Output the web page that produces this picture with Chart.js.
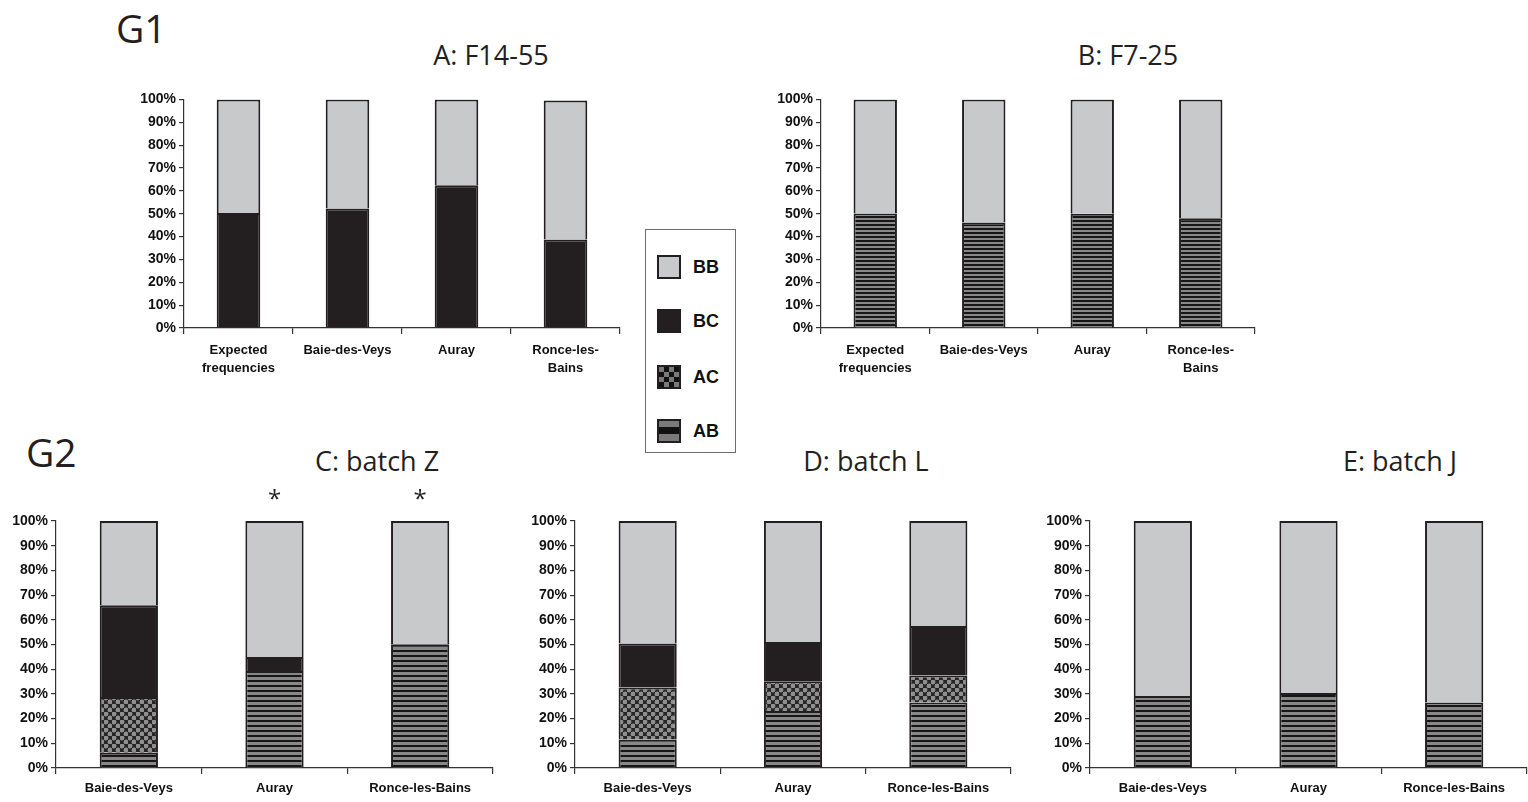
<!DOCTYPE html>
<html>
<head>
<meta charset="utf-8">
<script src="https://cdn.jsdelivr.net/npm/chart.js@4.4.1/dist/chart.umd.min.js"></script>
<style>
body { margin: 0; background: #fff; width: 1528px; height: 802px; position: relative; overflow: hidden; }
.caja { position: absolute; }
.titulo { position: absolute; font-family: "Open Sans", sans-serif; font-size: 27px; line-height: 1; color: #231f20; white-space: nowrap; transform: translateX(-50%); }
.grupo { position: absolute; font-family: "Open Sans", sans-serif; font-size: 39px; line-height: 1; color: #231f20; }
#leyenda { position: absolute; left: 645px; top: 229px; width: 89px; height: 222px; border: 1px solid #6d6d6d; }
.item { position: absolute; left: 11px; height: 24px; display: flex; align-items: center; font-family: "Liberation Sans", Arial, sans-serif; font-weight: bold; font-size: 18px; color: #111; }
.muestra { width: 20px; height: 20px; border: 2px solid #231f20; margin-right: 12px; }
</style>
</head>
<body>
<div class="grupo" style="left:116px; top:8px">G1</div>
<div class="grupo" style="left:26px; top:432px">G2</div>

<div class="titulo" style="left:491px; top:41px">A: F14-55</div>
<div class="titulo" style="left:1128px; top:41px">B: F7-25</div>
<div class="titulo" style="left:377px; top:447px">C: batch Z</div>
<div class="titulo" style="left:866px; top:447px">D: batch L</div>
<div class="titulo" style="left:1400px; top:447px">E: batch J</div>

<div class="caja" style="left:100px; top:88px"><canvas id="graficaA" width="540" height="302"></canvas></div>
<div class="caja" style="left:740px; top:88px"><canvas id="graficaB" width="540" height="302"></canvas></div>
<div class="caja" style="left:0px; top:480px"><canvas id="graficaC" width="500" height="322"></canvas></div>
<div class="caja" style="left:515px; top:480px"><canvas id="graficaD" width="500" height="322"></canvas></div>
<div class="caja" style="left:1030px; top:480px"><canvas id="graficaE" width="498" height="322"></canvas></div>

<div id="leyenda">
  <div class="item" style="top:25px"><div class="muestra" style="background:#c8c9cb"></div>BB</div>
  <div class="item" style="top:79px"><div class="muestra" style="background:#231f20"></div>BC</div>
  <div class="item" style="top:135px"><div class="muestra" style="background:conic-gradient(#111 0 25%, #7a7a7a 0 50%, #111 0 75%, #7a7a7a 0) 0 0/10px 10px"></div>AC</div>
  <div class="item" style="top:189px"><div class="muestra" style="background:linear-gradient(#7a7a7a 0 30%, #111 30% 65%, #7a7a7a 65%)"></div>AB</div>
</div>

<script>
// categorias
const lugaresG1 = [["Expected", "frequencies"], "Baie-des-Veys", "Auray", ["Ronce-les-", "Bains"]];
const lugaresG2 = ["Baie-des-Veys", "Auray", "Ronce-les-Bains"];

// A: F14-55 (%)
const bcA = [50.3, 52.3, 62.5, 38.7];
const bbA = [49.7, 47.7, 37.5, 60.8];

// B: F7-25 (%)
const abB = [50.1, 46.2, 50.0, 48.0];
const bbB = [49.9, 53.8, 50.0, 52.0];

// C: batch Z
const abC = [6.2, 39.3, 50.1];
const acC = [22.5, 0, 0];
const bcC = [37.2, 5.6, 0];
const bbC = [34.1, 55.1, 49.9];

// D: batch L
const abD = [11.5, 23.1, 26.5];
const acD = [21.1, 12.0, 11.0];
const bcD = [17.8, 15.9, 20.0];
const bbD = [49.6, 49.0, 42.5];

// E: batch J
const abE = [29.2, 30.4, 26.5];
const bbE = [70.8, 69.6, 73.5];

// asteriscos sobre C
const marcadosC = [1, 2];

const negro = "#231f20";
const gris = "#c8c9cb";

function rayas(periodo) {
    const c = document.createElement("canvas");
    c.width = 4; c.height = periodo;
    const g = c.getContext("2d");
    g.fillStyle = "#888888";
    g.fillRect(0, 0, 4, periodo);
    g.fillStyle = "#161616";
    g.fillRect(0, 0, 4, 2);
    return g.createPattern(c, "repeat");
}

function puntos() {
    const c = document.createElement("canvas");
    c.width = 8; c.height = 8;
    const g = c.getContext("2d");
    g.fillStyle = "#262626";
    g.fillRect(0, 0, 8, 8);
    g.fillStyle = "#909090";
    [[2, 2], [6, 6]].forEach(([x, y]) => {
        g.beginPath();
        g.arc(x, y, 2.4, 0, Math.PI * 2);
        g.fill();
    });
    return g.createPattern(c, "repeat");
}

const asteriscos = {
    id: "asteriscos",
    afterDatasetsDraw(chart, args, opts) {
        if (!opts.indices) return;
        const ctx = chart.ctx;
        ctx.save();
        ctx.fillStyle = negro;
        ctx.font = "24px 'Open Sans'";
        ctx.textAlign = "center";
        ctx.textBaseline = "alphabetic";
        opts.indices.forEach(i => {
            ctx.fillText("*", chart.scales.x.getPixelForValue(i), chart.chartArea.top - 14);
        });
        ctx.restore();
    }
};

function crearGrafica(id, etiquetas, series, anchoY, altoX, relleno, periodo, padX, extra) {
    const ab = rayas(periodo);
    const ac = puntos();
    const fondos = { AB: ab, AC: ac, BC: negro, BB: gris };
    return new Chart(document.getElementById(id), {
        type: "bar",
        plugins: [asteriscos],
        data: {
            labels: etiquetas,
            datasets: series.map(([nombre, datos]) => ({
                label: nombre,
                data: datos,
                backgroundColor: fondos[nombre],
                borderColor: negro,
                borderWidth: 2,
                barPercentage: 0.4,
                categoryPercentage: 1
            }))
        },
        options: {
            responsive: false,
            animation: false,
            layout: { padding: relleno },
            plugins: {
                legend: { display: false },
                tooltip: { enabled: false },
                asteriscos: extra || {}
            },
            scales: {
                x: {
                    stacked: true,
                    grid: { drawOnChartArea: false, tickLength: 6, color: "#333", lineWidth: 1.2 },
                    border: { color: "#333", width: 1.2 },
                    ticks: {
                        color: "#111",
                        padding: padX,
                        maxRotation: 0,
                        autoSkip: false,
                        font: { family: "'Liberation Sans', Arial", weight: "bold", size: 13, lineHeight: 1.35 }
                    },
                    afterFit(s) { s.height = altoX; }
                },
                y: {
                    stacked: true,
                    min: 0,
                    max: 100,
                    grid: { drawOnChartArea: false, tickLength: 5, color: "#333", lineWidth: 1.2 },
                    border: { color: "#333", width: 1.2 },
                    ticks: {
                        stepSize: 10,
                        color: "#111",
                        padding: 3,
                        callback: v => v + "%",
                        font: { family: "'Liberation Sans', Arial", weight: "bold", size: 14 }
                    },
                    afterFit(s) { s.width = anchoY; }
                }
            }
        }
    });
}

crearGrafica("graficaA", lugaresG1, [["BC", bcA], ["BB", bbA]], 84, 62, { top: 10, right: 20 }, 4, 8);
crearGrafica("graficaB", lugaresG1, [["AB", abB], ["BB", bbB]], 81, 62, { top: 10, right: 25 }, 4, 8);
crearGrafica("graficaC", lugaresG2, [["AB", abC], ["AC", acC], ["BC", bcC], ["BB", bbC]], 56, 34, { top: 41, right: 7 }, 5, 6, { indices: marcadosC });
crearGrafica("graficaD", lugaresG2, [["AB", abD], ["AC", acD], ["BC", bcD], ["BB", bbD]], 60, 34, { top: 41, right: 4 }, 5, 6);
crearGrafica("graficaE", lugaresG2, [["AB", abE], ["BB", bbE]], 60, 34, { top: 41, right: 1 }, 5, 6);
</script>
</body>
</html>
